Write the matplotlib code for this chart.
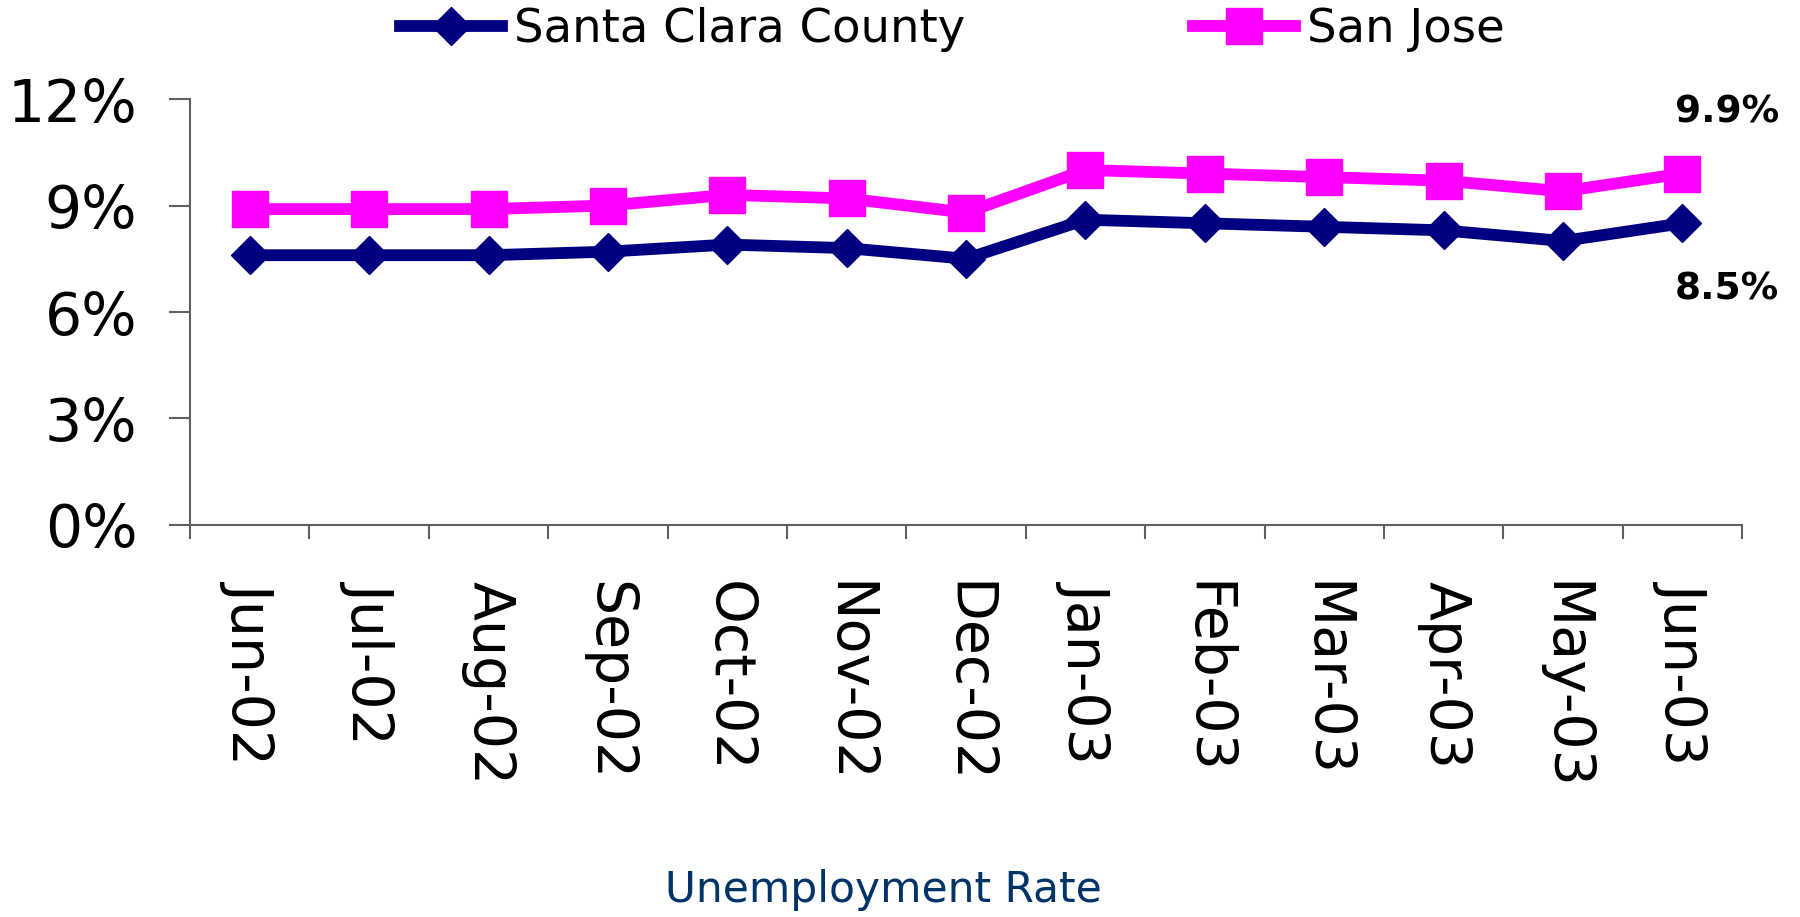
import matplotlib
matplotlib.use("Agg")
import matplotlib.pyplot as plt
from matplotlib.ticker import FixedLocator, FuncFormatter
from matplotlib.font_manager import FontProperties

months = ["Jun-02", "Jul-02", "Aug-02", "Sep-02", "Oct-02", "Nov-02", "Dec-02",
          "Jan-03", "Feb-03", "Mar-03", "Apr-03", "May-03", "Jun-03"]
santa_clara = [7.6, 7.6, 7.6, 7.7, 7.9, 7.8, 7.5, 8.6, 8.5, 8.4, 8.3, 8.0, 8.5]
san_jose = [8.9, 8.9, 8.9, 9.0, 9.3, 9.2, 8.8, 10.0, 9.9, 9.8, 9.7, 9.4, 9.9]
y_ticks = [0, 3, 6, 9, 12]
title = "Unemployment Rate"

NAVY = "#000080"
PINK = "#FF00FF"

plt.rcParams["font.family"] = ["DejaVu Sans"]

fig = plt.figure(figsize=(18, 9.17), dpi=100)
ax = fig.add_axes([0.1056, 0.4275, 0.9678 - 0.1056, 0.892 - 0.4275])

x = list(range(len(months)))
ax.plot(x, santa_clara, color=NAVY, lw=8.5, marker="D", markersize=19,
        solid_joinstyle="miter", label="Santa Clara County", zorder=3)
ax.plot(x, san_jose, color=PINK, lw=8.5, marker="s", markersize=26,
        label="San Jose", zorder=3)

ax.set_xlim(-0.5, len(months) - 0.5)
ax.set_ylim(0, 12)

ax.yaxis.set_major_locator(FixedLocator(y_ticks))
ax.yaxis.set_major_formatter(FuncFormatter(lambda v, p: f"{v:.0f}%"))
ax.tick_params(axis="y", length=15, width=1.5, color="#606060", pad=23,
               labelsize=42)

ax.set_xticks(x)
ax.set_xticklabels(months, rotation=-90, va="top", ha="center")
ax.set_xticks([i - 0.5 for i in range(len(months) + 1)], minor=True)
ax.tick_params(axis="x", which="major", length=0, pad=40, labelsize=41)
ax.tick_params(axis="x", which="minor", length=10, width=1.5, color="#606060")

for s in ["top", "right"]:
    ax.spines[s].set_visible(False)
for s in ["left", "bottom"]:
    ax.spines[s].set_color("#606060")
    ax.spines[s].set_linewidth(1.5)

ax.annotate(f"{san_jose[-1]:.1f}%", xy=(x[-1], san_jose[-1]), xytext=(32, 44),
            textcoords="offset points", ha="center", va="center",
            fontsize=27, fontweight="bold", annotation_clip=False)
ax.annotate(f"{santa_clara[-1]:.1f}%", xy=(x[-1], santa_clara[-1]), xytext=(32, -48),
            textcoords="offset points", ha="center", va="center",
            fontsize=27, fontweight="bold", annotation_clip=False)

leg_font = FontProperties(family="DejaVu Sans", size=33.5)
fig.legend(loc="center", bbox_to_anchor=(0.529, 0.968), ncol=2, frameon=False,
           prop=leg_font, handlelength=2.2, handletextpad=0.25, columnspacing=4.9,
           borderpad=0, borderaxespad=0)

fig.text(0.491, 0.029, title, ha="center", va="center", fontsize=30.5, color="#003366")

fig.savefig("out.png", dpi=100)
